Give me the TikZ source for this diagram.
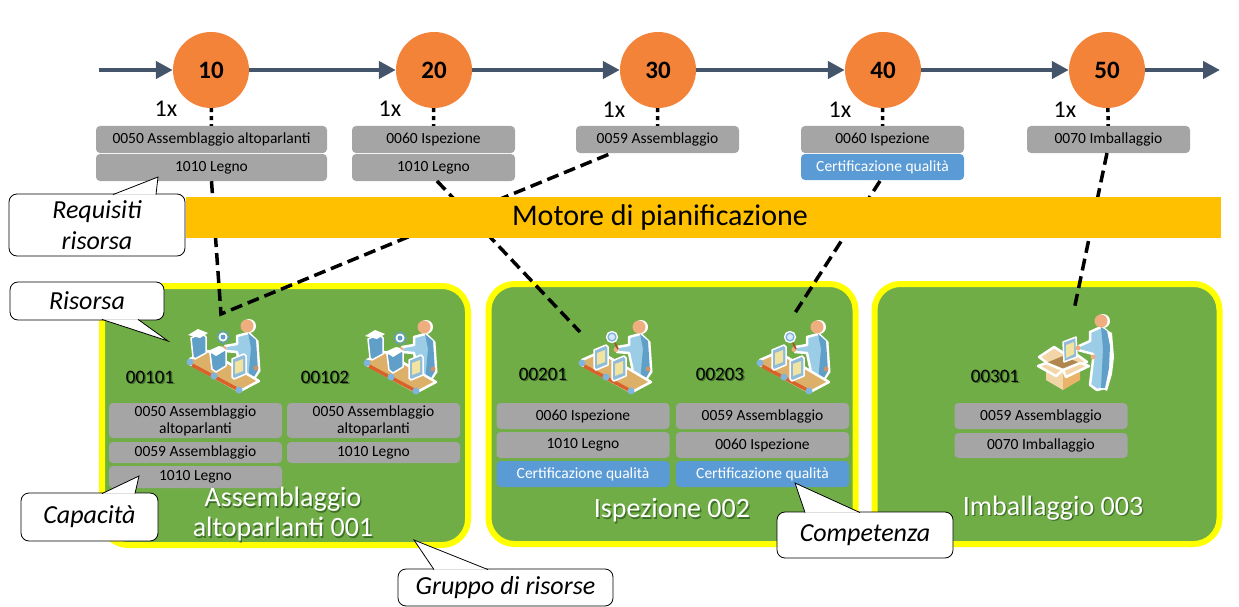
\documentclass[tikz,border=0pt]{standalone}
\usepackage{fontspec}
\setmainfont{Carlito}
\usetikzlibrary{arrows.meta}

\definecolor{flowblue}{HTML}{44546A}
\definecolor{steporange}{HTML}{F4833A}
\definecolor{capgrey}{HTML}{A5A5A5}
\definecolor{certblue}{HTML}{5B9BD5}
\definecolor{motoryellow}{HTML}{FFC000}
\definecolor{groupgreen}{HTML}{70AD47}
\definecolor{groupline}{HTML}{FFFF00}
\definecolor{softgreen}{HTML}{3F6E28}
\definecolor{suitlight}{HTML}{9CCDE6}
\definecolor{suitdark}{HTML}{5F9FC8}
\definecolor{skin}{HTML}{EFAE80}
\definecolor{belttan}{HTML}{DDB069}
\definecolor{beltred}{HTML}{D9622B}
\definecolor{rollerblue}{HTML}{7FB5DC}
\definecolor{partyellow}{HTML}{F3E3A0}
\definecolor{boxtan}{HTML}{E9B469}
\definecolor{boxlight}{HTML}{F3D6A8}

% text with a soft copy behind it
\newcommand{\softtext}[1]{\makebox[0pt][l]{\kern1.3pt\raisebox{-1.3pt}{\color{softgreen}#1}}#1}

\tikzset{
    stepnode/.style={circle, fill=steporange, minimum size=76pt, inner sep=0pt,
        font=\fontsize{25}{25}\selectfont\bfseries},
    flowline/.style={flowblue, line width=4.5pt},
    flowarrow/.style={flowline, -{Triangle[length=17pt,width=17pt]}},
    dotline/.style={black, line width=3.5pt, dash pattern=on 4pt off 4pt},
    dashline/.style={black, line width=3.5pt, dash pattern=on 12pt off 6pt},
    capbox/.style={fill=capgrey, rounded corners=4pt, inner sep=0pt, align=center,
        minimum width=173pt, font=\fontsize{15.5}{17}\selectfont},
    certbox/.style={capbox, fill=certblue, text=white},
    groupbox/.style={fill=groupgreen, draw=groupline, line width=6pt, rounded corners=26pt},
    notebox/.style={draw=black, line width=0.8pt, fill=white, rounded corners=8pt, inner sep=0pt,
        align=center, font=\fontsize{26}{31}\selectfont\itshape},
    timesnote/.style={font=\fontsize{24}{24}\selectfont},
    resnumber/.style={font=\fontsize{19}{19}\selectfont},
    grouptitle/.style={text=white, align=center, font=\fontsize{28}{30}\selectfont},
    sticker/.style={draw=white, line width=2.5pt, line join=round},
    % figure standing behind the belt
    pics/workerfig/.style={code={
        \fill[white, xshift=2.5pt, yshift=-1pt] (47,-26) -- (58,-30) -- (66,-22) -- (68,8) -- (60,20) -- (52,4) -- cycle;
        \fill[white, xshift=2pt] (57,-36) circle (7);
        \draw[sticker, fill=suitlight] (47,-26) -- (58,-29) -- (66,-22) -- (68,8) -- (61,20) -- (52,17) -- (50,4) -- (47,-10) -- (35,-11) -- (35,-16) -- (47,-18) -- cycle;
        \fill[suitdark] (58,-29) -- (66,-22) -- (68,8) -- (61,20) -- (58,19) -- (61,-14) -- cycle;
        \fill[skin] (57,-36) circle (6.5);
        \fill[skin] (34,-13.5) circle (2.5);
        \fill[skin!85!black] (66,6) circle (2.5);
    }},
    % conveyor belt with its rollers
    pics/beltbase/.style={code={
        \draw[sticker, fill=belttan] (0,-3) -- (18,-11) -- (69,19) -- (52,28) -- (49,29) -- (0,2) -- cycle;
        \draw[beltred, line width=3.5pt] (2,3) -- (47,27);
        \foreach \rollerx/\rollery in {0/0, 24/14, 49/28} {
            \fill[rollerblue] (\rollerx,\rollery) circle (3.5);
        }
    }},
    pics/partblock/.style={code={
        \draw[white, line width=1.5pt, fill=suitdark!70!white, line join=round] (0,0) -- (12,-5) -- (14,-3) -- (14,15) -- (2,20) -- (0,18) -- cycle;
        \fill[partyellow] (3,3) -- (11,0) -- (11,12) -- (3,15) -- cycle;
    }},
    pics/gearwheel/.style={code={
        \draw[suitdark, line width=2.5pt, dash pattern=on 2pt off 1.6pt] (0,0) circle (5.5);
        \fill[white] (0,0) circle (4.5);
        \fill[suitdark] (0,0) circle (2.5);
    }},
    pics/assemblyicon/.style={code={
        \pic {workerfig};
        \pic {beltbase};
        \draw[white, line width=1.5pt, fill=suitdark, line join=round] (1,-24) -- (12,-29) -- (16,-25) -- (16,-9) -- (5,-3) -- (3,-5) -- cycle;
        \fill[white] (-2,-27) -- (8,-33) -- (18,-29) -- (10,-24) -- cycle;
        \pic at (33,-25) {gearwheel};
        \draw[white, line width=1.5pt, fill=suitdark, line join=round] (20,-9) -- (31,-15) -- (36,-11) -- (36,4) -- (26,10) -- (22,7) -- cycle;
        \fill[white] (18,-11) -- (29,-16) -- (36,-12) -- (26,-6) -- cycle;
        \pic at (42,-3) {partblock};
    }},
    pics/inspecticon/.style={code={
        \pic {workerfig};
        \pic {beltbase};
        \draw[beltred!80!black, line width=1.6pt] (33,-20) -- (36,-14);
        \draw[white, line width=1.3pt, fill=rollerblue] (30,-26) circle (5.5);
        \fill[white!70!rollerblue] (30,-26) circle (3);
        \pic at (12,-13) {partblock};
        \pic at (30,-2) {partblock};
    }},
    % open carton with the figure behind it
    pics/packicon/.style={code={
        \fill[white, xshift=2pt, yshift=-1pt] (27,-36) -- (38,-41) -- (47,-36) -- (49,-12) -- (47,5) -- (42,22) -- (30,16) -- cycle;
        \fill[white, xshift=2pt] (38,-47) circle (7);
        \draw[sticker, fill=suitlight] (27,-36) -- (38,-41) -- (44,-37) -- (47,-22) -- (46,0) -- (42,20) -- (34,22) -- (27,17) -- (30,-8) -- (30,-14) -- (15,-18) -- (16,-22) -- (27,-27) -- cycle;
        \fill[suitdark] (38,-41) -- (44,-37) -- (47,-22) -- (46,0) -- (42,20) -- (38,20) -- (40,-20) -- cycle;
        \fill[skin] (38,-47) circle (6.5);
        \draw[sticker, fill=boxlight] (-24,-11) -- (-9,-21) -- (7,-11) -- (-13,-3) -- cycle;
        \draw[sticker, fill=boxlight] (0,-10) -- (13,-14) -- (24,-6) -- (6,2) -- cycle;
        \fill[boxtan!75!black] (-17,-5) -- (0,-12) -- (17,-5) -- (0,2) -- cycle;
        \fill[boxlight] (0,2) -- (-17,-5) -- (-17,12) -- (0,22) -- cycle;
        \fill[boxtan] (0,2) -- (17,-5) -- (17,12) -- (0,22) -- cycle;
        \draw[sticker, fill=boxlight] (0,2) -- (-17,-5) -- (-25,-2) -- (-7,8) -- cycle;
        \draw[sticker, fill=boxlight] (0,2) -- (17,-5) -- (26,-2) -- (3,9) -- cycle;
        \draw[white, line width=1.5pt, fill=suitdark!70!white, line join=round] (0,-26) -- (13,-31) -- (14,-11) -- (1,-6) -- cycle;
        \fill[partyellow] (3,-23) -- (11,-26) -- (11,-14) -- (3,-10) -- cycle;
        \fill[skin] (15,-20) circle (2.5);
        \fill[skin] (30,-11) circle (2.5);
    }},
}

% tail of a note, its two base points lie on the note's edge
\newcommand{\notetail}[3]{
    \fill[white] (#1) -- (#2) -- (#3) -- cycle;
    \draw[black, line width=0.8pt, line join=miter] (#1) -- (#2) -- (#3);
}

\begin{document}
\begin{tikzpicture}[x=1pt, y=-1pt]
    \useasboundingbox (0,0) rectangle (1239,607);

    % Resource groups
    \node (groupA) at (285,415.5) [groupbox, minimum width=366pt, minimum height=259pt] {};
    \node (groupB) at (672,414) [groupbox, minimum width=367pt, minimum height=260pt] {};
    \node (groupC) at (1047,414) [groupbox, minimum width=345pt, minimum height=260pt] {};

    % Timeline
    \node (step10) at (211,70) [stepnode] {10};
    \node (step20) at (434,70) [stepnode] {20};
    \node (step30) at (658,70) [stepnode] {30};
    \node (step40) at (883,70) [stepnode] {40};
    \node (step50) at (1107,70) [stepnode] {50};
    \coordinate (flowstart) at (99,70);
    \coordinate (flowend) at (1220,70);

    \draw[flowarrow] (flowstart) -- (step10);
    \draw[flowarrow] (step10) -- (step20);
    \draw[flowarrow] (step20) -- (step30);
    \draw[flowarrow] (step30) -- (step40);
    \draw[flowarrow] (step40) -- (step50);
    \draw[flowarrow] (step50) -- (flowend);

    \node (times10) at (166,109) [timesnote] {1x};
    \node (times20) at (390,109) [timesnote] {1x};
    \node (times30) at (614,110) [timesnote] {1x};
    \node (times40) at (840,110) [timesnote] {1x};
    \node (times50) at (1065,110) [timesnote] {1x};

    % Requirements below the steps
    \node (reqA) at (211.5,139.5) [capbox, minimum width=231pt, minimum height=27pt] {0050 Assemblaggio altoparlanti};
    \node (reqAwood) at (211.5,167.5) [capbox, minimum width=231pt, minimum height=27pt] {1010 Legno};
    \node (reqB) at (433.5,139.5) [capbox, minimum width=163pt, minimum height=27pt] {0060 Ispezione};
    \node (reqBwood) at (433.5,167.5) [capbox, minimum width=163pt, minimum height=27pt] {1010 Legno};
    \node (reqC) at (657.5,139.5) [capbox, minimum width=163pt, minimum height=27pt] {0059 Assemblaggio};
    \node (reqD) at (882.5,139.5) [capbox, minimum width=163pt, minimum height=27pt] {0060 Ispezione};
    \node (reqDcert) at (882.5,167) [certbox, minimum width=163pt, minimum height=26pt] {Certificazione qualità};
    \node (reqE) at (1108.5,139.5) [capbox, minimum width=163pt, minimum height=27pt] {0070 Imballaggio};

    \draw[dotline] (step10) -- (reqA);
    \draw[dotline] (step20) -- (reqB);
    \draw[dotline] (step30) -- (reqC);
    \draw[dotline] (step40) -- (reqD);
    \draw[dotline] (step50) -- (reqE);

    % Drawing links from the requirements to the resources
    \coordinate (bendA) at (221,314);
    \coordinate (leaveC) at (612,153);
    \coordinate (landB) at (580,332);
    \coordinate (leaveD) at (880,181);
    \coordinate (landD) at (793,316);
    \coordinate (leaveE) at (1107,153);
    \coordinate (landE) at (1074,310);
    \coordinate (leaveB) at (437,181);

    \draw[dashline] (reqAwood.south) -- (bendA) -- (leaveC);
    \draw[dashline] (leaveB) -- (landB);
    \draw[dashline] (leaveD) -- (landD);
    \draw[dashline] (leaveE) -- (landE);

    \node (motor) at (703.5,217.5) [fill=motoryellow, minimum width=1035pt, minimum height=41pt, inner sep=0pt,
        font=\fontsize{30}{30}\selectfont, text depth=0pt] {};
    \node (motortext) at (660,218) [font=\fontsize{30}{30}\selectfont] {Motore di pianificazione};

    % Resources
    \pic at (190,362) {assemblyicon};
    \pic at (367,363) {assemblyicon};
    \pic at (582,363) {inspecticon};
    \pic at (760,363) {inspecticon};
    \pic at (1063,368) {packicon};

    \node (res00101) at (150,378) [resnumber] {\softtext{00101}};
    \node (res00102) at (325,378) [resnumber] {\softtext{00102}};
    \node (res00201) at (543,375) [resnumber] {\softtext{00201}};
    \node (res00203) at (720,375) [resnumber] {\softtext{00203}};
    \node (res00301) at (995,377) [resnumber] {\softtext{00301}};

    % Capacities
    \node (capAa) at (195.5,420.5) [capbox, minimum height=35pt] {0050 Assemblaggio\\altoparlanti};
    \node (capAb) at (195.5,452.5) [capbox, minimum height=21pt] {0059 Assemblaggio};
    \node (capAc) at (195.5,477) [capbox, minimum height=22pt] {1010 Legno};
    \node (capBa) at (373.5,420.5) [capbox, minimum height=35pt] {0050 Assemblaggio\\altoparlanti};
    \node (capBb) at (373.5,452.5) [capbox, minimum height=21pt] {1010 Legno};
    \node (capCa) at (583,416) [capbox, minimum height=26pt] {0060 Ispezione};
    \node (capCb) at (583,445) [capbox, minimum height=26pt] {1010 Legno};
    \node (capCc) at (583,474) [certbox, minimum height=26pt] {Certificazione qualità};
    \node (capDa) at (762.5,416) [capbox, minimum height=26pt] {0059 Assemblaggio};
    \node (capDb) at (762.5,445) [capbox, minimum height=26pt] {0060 Ispezione};
    \node (capDc) at (762.5,474) [certbox, minimum height=26pt] {Certificazione qualità};
    \node (capEa) at (1041,416) [capbox, minimum height=26pt] {0059 Assemblaggio};
    \node (capEb) at (1041,445.5) [capbox, minimum height=25pt] {0070 Imballaggio};

    % Group names
    \node (titleA) at (283,515) [grouptitle] {\softtext{Assemblaggio}\\\softtext{altoparlanti 001}};
    \node (titleB) at (672,511) [grouptitle] {\softtext{Ispezione 002}};
    \node (titleC) at (1053,509) [grouptitle] {\softtext{Imballaggio 003}};

    % Notes
    \node (noteReq) at (97,225) [notebox, minimum width=176pt, minimum height=62pt] {Requisiti\\risorsa};
    \notetail{113,194.6}{158,177}{156,194.6}
    \node (noteRes) at (87,301) [notebox, minimum width=154pt, minimum height=38pt] {Risorsa};
    \notetail{102,319.4}{168,341}{138,319.4}
    \node (noteCap) at (89.5,517) [notebox, minimum width=137pt, minimum height=48pt] {Capacità};
    \notetail{102,493.6}{139,476}{135,493.6}
    \node (noteGroup) at (505.5,587.5) [notebox, minimum width=215pt, minimum height=37pt] {Gruppo di risorse};
    \notetail{434,569.6}{414,540}{488,569.6}
    \node (noteComp) at (865,535) [notebox, minimum width=176pt, minimum height=46pt] {Competenza};
    \notetail{805,512.6}{795,483}{860,512.6}
\end{tikzpicture}
\end{document}
